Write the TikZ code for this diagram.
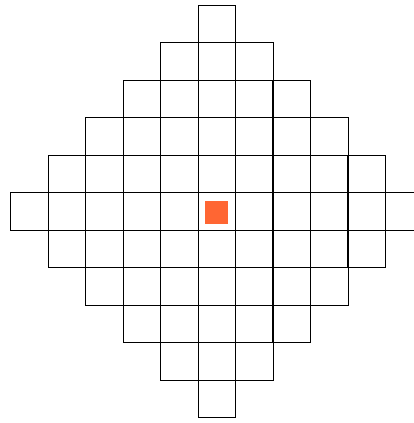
\documentclass[tikz,border=0pt]{standalone}
\usepackage{tikz}

\begin{document}
\begin{tikzpicture}[
        cell/.style={rectangle, draw, line width=0.6pt, minimum size=1cm, inner sep=0pt},
        marker/.style={rectangle, fill=markorange, minimum size=0.61cm, inner sep=0pt},
        wall/.style={line width=1.5pt}
        ]
      \definecolor{markorange}{HTML}{FF6633}
      \useasboundingbox (-0.28,-0.147) rectangle (10.76,11.133);
      \clip (-0.28,-0.147) rectangle (10.76,11.133);

      % diamond of cells
      \foreach \r in {0,...,10} {
        \pgfmathtruncatemacro{\d}{abs(\r-5)}
        \pgfmathtruncatemacro{\e}{10-\d}
        \foreach \c in {\d,...,\e}
          \node[cell] (c\c-\r) at (\c+0.5,\r+0.5) {};
      }

      \node[marker] (mark) at ([yshift=-0.03cm]c5-5.center) {};

      \draw[wall] (c7-2.south west) -- (c7-8.north west);
      \draw[wall] (c9-4.south west) -- (c9-6.north west);

    \end{tikzpicture}
\end{document}
